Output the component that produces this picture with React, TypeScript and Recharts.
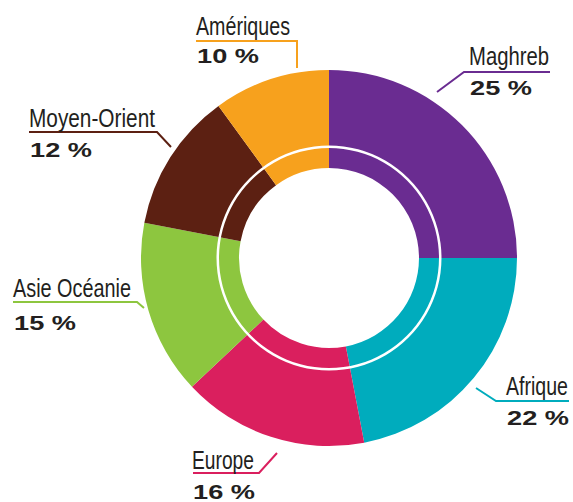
import { PieChart, Pie, Cell } from "recharts"

// Regions, clockwise from 12 o'clock
const regions = ["Maghreb", "Afrique", "Europe", "Asie Océanie", "Moyen-Orient", "Amériques"]
const shares = [25, 22, 16, 15, 12, 10]
const colors = ["#6a2c91", "#00acbd", "#da1f5e", "#8dc63f", "#5c2012", "#f7a11d"]

const data = regions.map((name, i) => ({ name, value: shares[i] }))

// hand placed callouts: text x, name baseline, name width (condensed face), value baseline, leader polyline
const callouts = [
    { x: 469, y: 65, w: 80, vy: 95, line: "437,92 464,72 550,72" },
    { x: 506, y: 395, w: 62, vy: 425, line: "476,388 496,401 569,401" },
    { x: 192, y: 469, w: 62, vy: 499, line: "193,473 259,473 277,453" },
    { x: 13, y: 297, w: 118, vy: 330, line: "13,302 137,302 144,308" },
    { x: 29, y: 127, w: 126, vy: 157, line: "29,132 157,132 171,147" },
    { x: 196, y: 35, w: 94, vy: 63, line: "196,41 297,41 297,68" },
]

const font = "'Liberation Sans', Arial, sans-serif"

const renderLabel = (props: any) => {
    const i = props.index
    const c = callouts[i]
    return (
        <g key={`lbl-${i}`}>
            <polyline points={c.line} fill="none" stroke={colors[i]} strokeWidth={2} />
            <text x={c.x} y={c.y} fontFamily={font} fontSize={25} fill="#231f20"
                textLength={c.w} lengthAdjust="spacingAndGlyphs">
                {regions[i]}
            </text>
            <text x={c.x + 1} y={c.vy} fontFamily={font} fontWeight="bold" fontSize={21} fill="#231f20"
                textLength={62} lengthAdjust="spacingAndGlyphs">
                {`${shares[i]} %`}
            </text>
        </g>
    )
}

export default function App() {
    return (
        <div style={{ position: "absolute", left: 0, top: 0, width: 573, height: 502, overflow: "hidden", background: "#fff" }}>
            <PieChart width={573} height={502} margin={{ top: 0, right: 0, bottom: 0, left: 0 }}>
                <Pie
                    data={data}
                    dataKey="value"
                    cx={329}
                    cy={258}
                    innerRadius={90}
                    outerRadius={188}
                    startAngle={90}
                    endAngle={-270}
                    stroke="none"
                    label={renderLabel}
                    labelLine={false}
                    isAnimationActive={false}
                >
                    {data.map((d, i) => (
                        <Cell key={d.name} fill={colors[i]} />
                    ))}
                </Pie>
                <Pie
                    data={[{ name: "ring", value: 1 }]}
                    dataKey="value"
                    cx={329}
                    cy={258}
                    innerRadius={110}
                    outerRadius={112.5}
                    startAngle={90}
                    endAngle={-270}
                    fill="#ffffff"
                    stroke="none"
                    isAnimationActive={false}
                />
            </PieChart>
        </div>
    )
}
